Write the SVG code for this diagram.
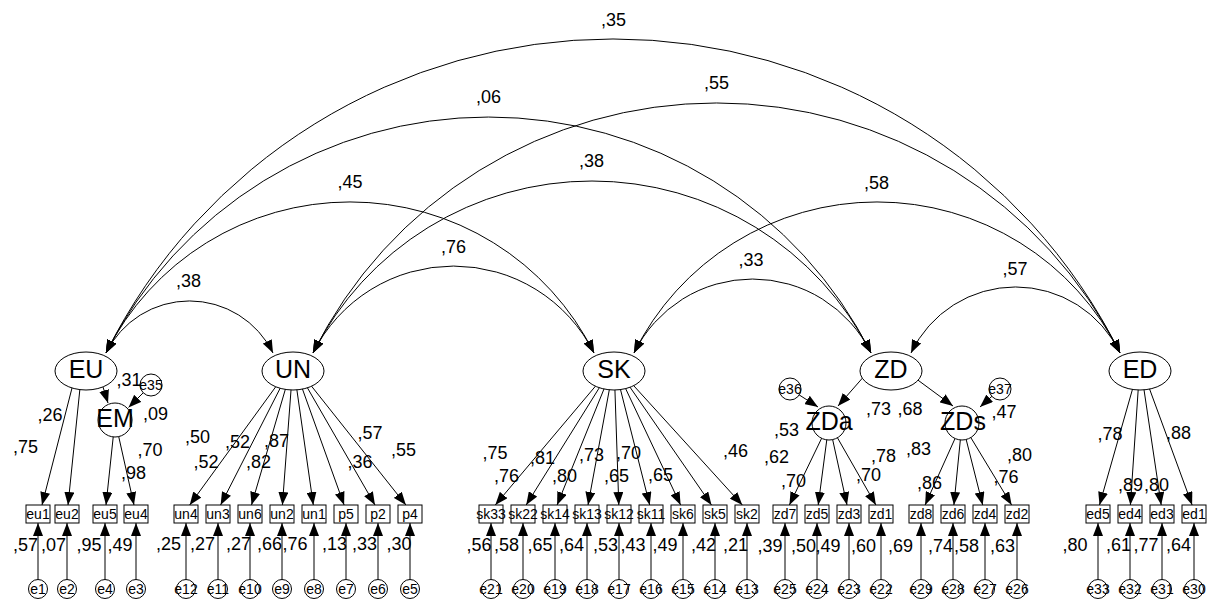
<svg xmlns="http://www.w3.org/2000/svg" width="1209" height="602" viewBox="0 0 1209 602">
<defs>
<marker id="ah" viewBox="0 0 13 10" refX="13" refY="5" markerWidth="13" markerHeight="10" markerUnits="userSpaceOnUse" orient="auto-start-reverse"><path d="M0,0 L13,5 L0,10 z" fill="#000"/></marker>
<style>
text{font-family:"Liberation Sans",Arial,sans-serif;fill:#000}
.l{font-size:18px;text-anchor:middle}
.nm{font-size:25px;text-anchor:middle}
.bt{font-size:14px;text-anchor:middle}
.c{fill:none;stroke:#000;stroke-width:1;marker-end:url(#ah)}
.cv{fill:none;stroke:#000;stroke-width:1;marker-start:url(#ah);marker-end:url(#ah)}
.lat{fill:#fff;stroke:#000;stroke-width:1}
.box{fill:#fff;stroke:#000;stroke-width:1}
.err{fill:#fff;stroke:#000;stroke-width:1}
</style>
</defs>
<rect width="1209" height="602" fill="#fff"/>
<g id="connectors">
<path class="cv" d="M106,353 A93,93 0 0 1 273,353"/>
<path class="cv" d="M106,353 A272.6,272.6 0 0 1 594,353"/>
<path class="cv" d="M106,353 A428,428 0 0 1 871,353"/>
<path class="cv" d="M106,353 A566.3,566.3 0 0 1 1120,353"/>
<path class="cv" d="M313,353 A157,157 0 0 1 594,353"/>
<path class="cv" d="M313,353 A312.3,312.3 0 0 1 871,353"/>
<path class="cv" d="M313,353 A450.6,450.6 0 0 1 1120,353"/>
<path class="cv" d="M634,353 A131.9,131.9 0 0 1 871,353"/>
<path class="cv" d="M634,353 A271,271 0 0 1 1120,353"/>
<path class="cv" d="M911,353 A115.7,115.7 0 0 1 1120,353"/>
<path class="c" d="M100.8,380 L108,403"/>
<path class="c" d="M151,385 L128.5,407.5"/>
<path class="c" d="M866,374 L838,406"/>
<path class="c" d="M911,375 L953,406"/>
<path class="c" d="M790,389 L818,407"/>
<path class="c" d="M1000,389 L980,407"/>
<path class="c" d="M72,388 L42,505"/>
<path class="c" d="M80,388 L68,505"/>
<path class="c" d="M115,420 L106,505"/>
<path class="c" d="M115,420 L134,505"/>
<path class="c" d="M277,385 L189.7,505"/>
<path class="c" d="M281.8,385 L220.6,505"/>
<path class="c" d="M286.6,385 L251.5,505"/>
<path class="c" d="M291.4,385 L282.4,505"/>
<path class="c" d="M296.2,385 L313.3,505"/>
<path class="c" d="M301,385 L344.1,505"/>
<path class="c" d="M305.8,385 L375,505"/>
<path class="c" d="M310.6,385 L405.9,505"/>
<path class="c" d="M595.6,386 L495.3,505"/>
<path class="c" d="M600.4,386 L526.2,505"/>
<path class="c" d="M605.2,386 L557.1,505"/>
<path class="c" d="M610,386 L588,505"/>
<path class="c" d="M614.8,386 L618.8,505"/>
<path class="c" d="M619.6,386 L649.7,505"/>
<path class="c" d="M624.4,386 L680.6,505"/>
<path class="c" d="M629.2,386 L711.5,505"/>
<path class="c" d="M634,386 L742.3,505"/>
<path class="c" d="M829,423 L789.4,505"/>
<path class="c" d="M829,423 L818.2,505"/>
<path class="c" d="M829,423 L847,505"/>
<path class="c" d="M829,423 L875.9,505"/>
<path class="c" d="M962,423 L925.1,505"/>
<path class="c" d="M962,423 L953.9,505"/>
<path class="c" d="M962,423 L982.7,505"/>
<path class="c" d="M962,423 L1011.6,505"/>
<path class="c" d="M1133.7,385 L1099.5,505"/>
<path class="c" d="M1138.5,385 L1130.4,505"/>
<path class="c" d="M1143.3,385 L1161.2,505"/>
<path class="c" d="M1148.1,385 L1192.1,505"/>
<path class="c" d="M38,579.5 V523"/><path class="c" d="M67,579.5 V523"/><path class="c" d="M105,579.5 V523"/><path class="c" d="M136,579.5 V523"/>
<path class="c" d="M186,579.5 V523"/><path class="c" d="M218,579.5 V523"/><path class="c" d="M250,579.5 V523"/><path class="c" d="M282,579.5 V523"/>
<path class="c" d="M314,579.5 V523"/><path class="c" d="M346,579.5 V523"/><path class="c" d="M378,579.5 V523"/><path class="c" d="M410,579.5 V523"/>
<path class="c" d="M491,579.5 V523"/><path class="c" d="M523,579.5 V523"/><path class="c" d="M555,579.5 V523"/><path class="c" d="M587,579.5 V523"/>
<path class="c" d="M619,579.5 V523"/><path class="c" d="M651,579.5 V523"/><path class="c" d="M683,579.5 V523"/><path class="c" d="M715,579.5 V523"/><path class="c" d="M747,579.5 V523"/>
<path class="c" d="M785,579.5 V523"/><path class="c" d="M817,579.5 V523"/><path class="c" d="M849,579.5 V523"/><path class="c" d="M881,579.5 V523"/>
<path class="c" d="M921,579.5 V523"/><path class="c" d="M953,579.5 V523"/><path class="c" d="M985,579.5 V523"/><path class="c" d="M1017,579.5 V523"/>
<path class="c" d="M1098,579.5 V523"/><path class="c" d="M1130,579.5 V523"/><path class="c" d="M1162,579.5 V523"/><path class="c" d="M1194,579.5 V523"/>
</g>
<g id="EU"><ellipse class="lat" cx="86" cy="371" rx="31" ry="19"/><text class="nm" x="86" y="378">EU</text></g>
<g id="UN"><ellipse class="lat" cx="293" cy="371" rx="31" ry="19"/><text class="nm" x="293" y="378">UN</text></g>
<g id="SK"><ellipse class="lat" cx="614" cy="371" rx="31" ry="19"/><text class="nm" x="614" y="378">SK</text></g>
<g id="ZD"><ellipse class="lat" cx="891" cy="371" rx="31" ry="19"/><text class="nm" x="891" y="378">ZD</text></g>
<g id="ED"><ellipse class="lat" cx="1140" cy="371" rx="31" ry="19"/><text class="nm" x="1140" y="378">ED</text></g>
<g id="EM"><circle class="lat" cx="115" cy="420" r="17"/><text class="nm" x="115" y="427">EM</text></g>
<g id="ZDa"><circle class="lat" cx="829" cy="423" r="17"/><text class="nm" x="829" y="430">ZDa</text></g>
<g id="ZDs"><circle class="lat" cx="962" cy="423" r="17"/><text class="nm" x="963" y="430">ZDs</text></g>
<g id="e35"><circle class="err" cx="151" cy="385" r="11"/><text class="bt" x="151" y="390">e35</text></g>
<g id="e36"><circle class="err" cx="790" cy="389" r="11"/><text class="bt" x="790" y="394">e36</text></g>
<g id="e37"><circle class="err" cx="1000" cy="389" r="11"/><text class="bt" x="1000" y="394">e37</text></g>
<g id="eu1"><rect class="box" x="26" y="505" width="24" height="18"/><text class="bt" x="38" y="519">eu1</text></g>
<g id="eu2"><rect class="box" x="55" y="505" width="24" height="18"/><text class="bt" x="67" y="519">eu2</text></g>
<g id="eu5"><rect class="box" x="93" y="505" width="24" height="18"/><text class="bt" x="105" y="519">eu5</text></g>
<g id="eu4"><rect class="box" x="124" y="505" width="24" height="18"/><text class="bt" x="136" y="519">eu4</text></g>
<g id="un4"><rect class="box" x="174" y="505" width="24" height="18"/><text class="bt" x="186" y="519">un4</text></g>
<g id="un3"><rect class="box" x="206" y="505" width="24" height="18"/><text class="bt" x="218" y="519">un3</text></g>
<g id="un6"><rect class="box" x="238" y="505" width="24" height="18"/><text class="bt" x="250" y="519">un6</text></g>
<g id="un2"><rect class="box" x="270" y="505" width="24" height="18"/><text class="bt" x="282" y="519">un2</text></g>
<g id="un1"><rect class="box" x="302" y="505" width="24" height="18"/><text class="bt" x="314" y="519">un1</text></g>
<g id="p5"><rect class="box" x="334" y="505" width="24" height="18"/><text class="bt" x="346" y="519">p5</text></g>
<g id="p2"><rect class="box" x="366" y="505" width="24" height="18"/><text class="bt" x="378" y="519">p2</text></g>
<g id="p4"><rect class="box" x="398" y="505" width="24" height="18"/><text class="bt" x="410" y="519">p4</text></g>
<g id="sk33"><rect class="box" x="479" y="505" width="24" height="18"/><text class="bt" x="491" y="519">sk33</text></g>
<g id="sk22"><rect class="box" x="511" y="505" width="24" height="18"/><text class="bt" x="523" y="519">sk22</text></g>
<g id="sk14"><rect class="box" x="543" y="505" width="24" height="18"/><text class="bt" x="555" y="519">sk14</text></g>
<g id="sk13"><rect class="box" x="575" y="505" width="24" height="18"/><text class="bt" x="587" y="519">sk13</text></g>
<g id="sk12"><rect class="box" x="607" y="505" width="24" height="18"/><text class="bt" x="619" y="519">sk12</text></g>
<g id="sk11"><rect class="box" x="639" y="505" width="24" height="18"/><text class="bt" x="651" y="519">sk11</text></g>
<g id="sk6"><rect class="box" x="671" y="505" width="24" height="18"/><text class="bt" x="683" y="519">sk6</text></g>
<g id="sk5"><rect class="box" x="703" y="505" width="24" height="18"/><text class="bt" x="715" y="519">sk5</text></g>
<g id="sk2"><rect class="box" x="735" y="505" width="24" height="18"/><text class="bt" x="747" y="519">sk2</text></g>
<g id="zd7"><rect class="box" x="773" y="505" width="24" height="18"/><text class="bt" x="785" y="519">zd7</text></g>
<g id="zd5"><rect class="box" x="805" y="505" width="24" height="18"/><text class="bt" x="817" y="519">zd5</text></g>
<g id="zd3"><rect class="box" x="837" y="505" width="24" height="18"/><text class="bt" x="849" y="519">zd3</text></g>
<g id="zd1"><rect class="box" x="869" y="505" width="24" height="18"/><text class="bt" x="881" y="519">zd1</text></g>
<g id="zd8"><rect class="box" x="909" y="505" width="24" height="18"/><text class="bt" x="921" y="519">zd8</text></g>
<g id="zd6"><rect class="box" x="941" y="505" width="24" height="18"/><text class="bt" x="953" y="519">zd6</text></g>
<g id="zd4"><rect class="box" x="973" y="505" width="24" height="18"/><text class="bt" x="985" y="519">zd4</text></g>
<g id="zd2"><rect class="box" x="1005" y="505" width="24" height="18"/><text class="bt" x="1017" y="519">zd2</text></g>
<g id="ed5"><rect class="box" x="1086" y="505" width="24" height="18"/><text class="bt" x="1098" y="519">ed5</text></g>
<g id="ed4"><rect class="box" x="1118" y="505" width="24" height="18"/><text class="bt" x="1130" y="519">ed4</text></g>
<g id="ed3"><rect class="box" x="1150" y="505" width="24" height="18"/><text class="bt" x="1162" y="519">ed3</text></g>
<g id="ed1"><rect class="box" x="1182" y="505" width="24" height="18"/><text class="bt" x="1194" y="519">ed1</text></g>
<g id="e1"><circle class="err" cx="38" cy="589" r="9.5"/><text class="bt" x="38" y="594">e1</text></g>
<g id="e2"><circle class="err" cx="67" cy="589" r="9.5"/><text class="bt" x="67" y="594">e2</text></g>
<g id="e4"><circle class="err" cx="105" cy="589" r="9.5"/><text class="bt" x="105" y="594">e4</text></g>
<g id="e3"><circle class="err" cx="136" cy="589" r="9.5"/><text class="bt" x="136" y="594">e3</text></g>
<g id="e12"><circle class="err" cx="186" cy="589" r="9.5"/><text class="bt" x="186" y="594">e12</text></g>
<g id="e11"><circle class="err" cx="218" cy="589" r="9.5"/><text class="bt" x="218" y="594">e11</text></g>
<g id="e10"><circle class="err" cx="250" cy="589" r="9.5"/><text class="bt" x="250" y="594">e10</text></g>
<g id="e9"><circle class="err" cx="282" cy="589" r="9.5"/><text class="bt" x="282" y="594">e9</text></g>
<g id="e8"><circle class="err" cx="314" cy="589" r="9.5"/><text class="bt" x="314" y="594">e8</text></g>
<g id="e7"><circle class="err" cx="346" cy="589" r="9.5"/><text class="bt" x="346" y="594">e7</text></g>
<g id="e6"><circle class="err" cx="378" cy="589" r="9.5"/><text class="bt" x="378" y="594">e6</text></g>
<g id="e5"><circle class="err" cx="410" cy="589" r="9.5"/><text class="bt" x="410" y="594">e5</text></g>
<g id="e21"><circle class="err" cx="491" cy="589" r="9.5"/><text class="bt" x="491" y="594">e21</text></g>
<g id="e20"><circle class="err" cx="523" cy="589" r="9.5"/><text class="bt" x="523" y="594">e20</text></g>
<g id="e19"><circle class="err" cx="555" cy="589" r="9.5"/><text class="bt" x="555" y="594">e19</text></g>
<g id="e18"><circle class="err" cx="587" cy="589" r="9.5"/><text class="bt" x="587" y="594">e18</text></g>
<g id="e17"><circle class="err" cx="619" cy="589" r="9.5"/><text class="bt" x="619" y="594">e17</text></g>
<g id="e16"><circle class="err" cx="651" cy="589" r="9.5"/><text class="bt" x="651" y="594">e16</text></g>
<g id="e15"><circle class="err" cx="683" cy="589" r="9.5"/><text class="bt" x="683" y="594">e15</text></g>
<g id="e14"><circle class="err" cx="715" cy="589" r="9.5"/><text class="bt" x="715" y="594">e14</text></g>
<g id="e13"><circle class="err" cx="747" cy="589" r="9.5"/><text class="bt" x="747" y="594">e13</text></g>
<g id="e25"><circle class="err" cx="785" cy="589" r="9.5"/><text class="bt" x="785" y="594">e25</text></g>
<g id="e24"><circle class="err" cx="817" cy="589" r="9.5"/><text class="bt" x="817" y="594">e24</text></g>
<g id="e23"><circle class="err" cx="849" cy="589" r="9.5"/><text class="bt" x="849" y="594">e23</text></g>
<g id="e22"><circle class="err" cx="881" cy="589" r="9.5"/><text class="bt" x="881" y="594">e22</text></g>
<g id="e29"><circle class="err" cx="921" cy="589" r="9.5"/><text class="bt" x="921" y="594">e29</text></g>
<g id="e28"><circle class="err" cx="953" cy="589" r="9.5"/><text class="bt" x="953" y="594">e28</text></g>
<g id="e27"><circle class="err" cx="985" cy="589" r="9.5"/><text class="bt" x="985" y="594">e27</text></g>
<g id="e26"><circle class="err" cx="1017" cy="589" r="9.5"/><text class="bt" x="1017" y="594">e26</text></g>
<g id="e33"><circle class="err" cx="1098" cy="589" r="9.5"/><text class="bt" x="1098" y="594">e33</text></g>
<g id="e32"><circle class="err" cx="1130" cy="589" r="9.5"/><text class="bt" x="1130" y="594">e32</text></g>
<g id="e31"><circle class="err" cx="1162" cy="589" r="9.5"/><text class="bt" x="1162" y="594">e31</text></g>
<g id="e30"><circle class="err" cx="1194" cy="589" r="9.5"/><text class="bt" x="1194" y="594">e30</text></g>
<g id="labels">
<text class="l" x="188.5" y="287">,38</text>
<text class="l" x="350" y="188">,45</text>
<text class="l" x="488.5" y="103">,06</text>
<text class="l" x="613.5" y="26">,35</text>
<text class="l" x="453.5" y="253">,76</text>
<text class="l" x="591.5" y="167">,38</text>
<text class="l" x="716.5" y="89">,55</text>
<text class="l" x="751" y="266">,33</text>
<text class="l" x="876.5" y="189">,58</text>
<text class="l" x="1015" y="275">,57</text>
<text class="l" x="50" y="421">,26</text>
<text class="l" x="25.5" y="453">,75</text>
<text class="l" x="129" y="386">,31</text>
<text class="l" x="155.5" y="420">,09</text>
<text class="l" x="150" y="456">,70</text>
<text class="l" x="133.5" y="479">,98</text>
<text class="l" x="25.5" y="551">,57</text>
<text class="l" x="53.5" y="551">,07</text>
<text class="l" x="89" y="551">,95</text>
<text class="l" x="120" y="551">,49</text>
<text class="l" x="197.5" y="443">,50</text>
<text class="l" x="206" y="468">,52</text>
<text class="l" x="237.5" y="448">,52</text>
<text class="l" x="276.5" y="447">,87</text>
<text class="l" x="258.5" y="468">,82</text>
<text class="l" x="370" y="439">,57</text>
<text class="l" x="360" y="468">,36</text>
<text class="l" x="403.5" y="456">,55</text>
<text class="l" x="168.5" y="550">,25</text>
<text class="l" x="202.5" y="550">,27</text>
<text class="l" x="238.5" y="550">,27</text>
<text class="l" x="269.5" y="550">,66</text>
<text class="l" x="295" y="550">,76</text>
<text class="l" x="334.5" y="550">,13</text>
<text class="l" x="364.5" y="550">,33</text>
<text class="l" x="399" y="550">,30</text>
<text class="l" x="495" y="459">,75</text>
<text class="l" x="506.5" y="482">,76</text>
<text class="l" x="542.5" y="464">,81</text>
<text class="l" x="564.5" y="482">,80</text>
<text class="l" x="591.5" y="461">,73</text>
<text class="l" x="628.5" y="459">,70</text>
<text class="l" x="616.5" y="482">,65</text>
<text class="l" x="660.5" y="481">,65</text>
<text class="l" x="735.5" y="457">,46</text>
<text class="l" x="479" y="551">,56</text>
<text class="l" x="506.5" y="551">,58</text>
<text class="l" x="540" y="551">,65</text>
<text class="l" x="571.5" y="551">,64</text>
<text class="l" x="605.5" y="551">,53</text>
<text class="l" x="633" y="551">,43</text>
<text class="l" x="665" y="551">,49</text>
<text class="l" x="703.5" y="551">,42</text>
<text class="l" x="735.5" y="551">,21</text>
<text class="l" x="878.5" y="415">,73</text>
<text class="l" x="910" y="415">,68</text>
<text class="l" x="786.5" y="436">,53</text>
<text class="l" x="776.5" y="463">,62</text>
<text class="l" x="793.5" y="487">,70</text>
<text class="l" x="883.5" y="462">,78</text>
<text class="l" x="868.5" y="481">,70</text>
<text class="l" x="918.5" y="455">,83</text>
<text class="l" x="929.5" y="489">,86</text>
<text class="l" x="1004" y="418">,47</text>
<text class="l" x="1019.5" y="461">,80</text>
<text class="l" x="1006" y="483">,76</text>
<text class="l" x="770" y="552">,39</text>
<text class="l" x="803.5" y="552">,50</text>
<text class="l" x="828" y="552">,49</text>
<text class="l" x="863.5" y="552">,60</text>
<text class="l" x="900.5" y="552">,69</text>
<text class="l" x="940.5" y="552">,74</text>
<text class="l" x="966.5" y="552">,58</text>
<text class="l" x="1002.5" y="552">,63</text>
<text class="l" x="1110" y="440">,78</text>
<text class="l" x="1178.5" y="439">,88</text>
<text class="l" x="1130.5" y="491">,89</text>
<text class="l" x="1156.5" y="491">,80</text>
<text class="l" x="1075" y="551">,80</text>
<text class="l" x="1118.5" y="551">,61</text>
<text class="l" x="1146" y="551">,77</text>
<text class="l" x="1178.5" y="551">,64</text>
</g>
</svg>
